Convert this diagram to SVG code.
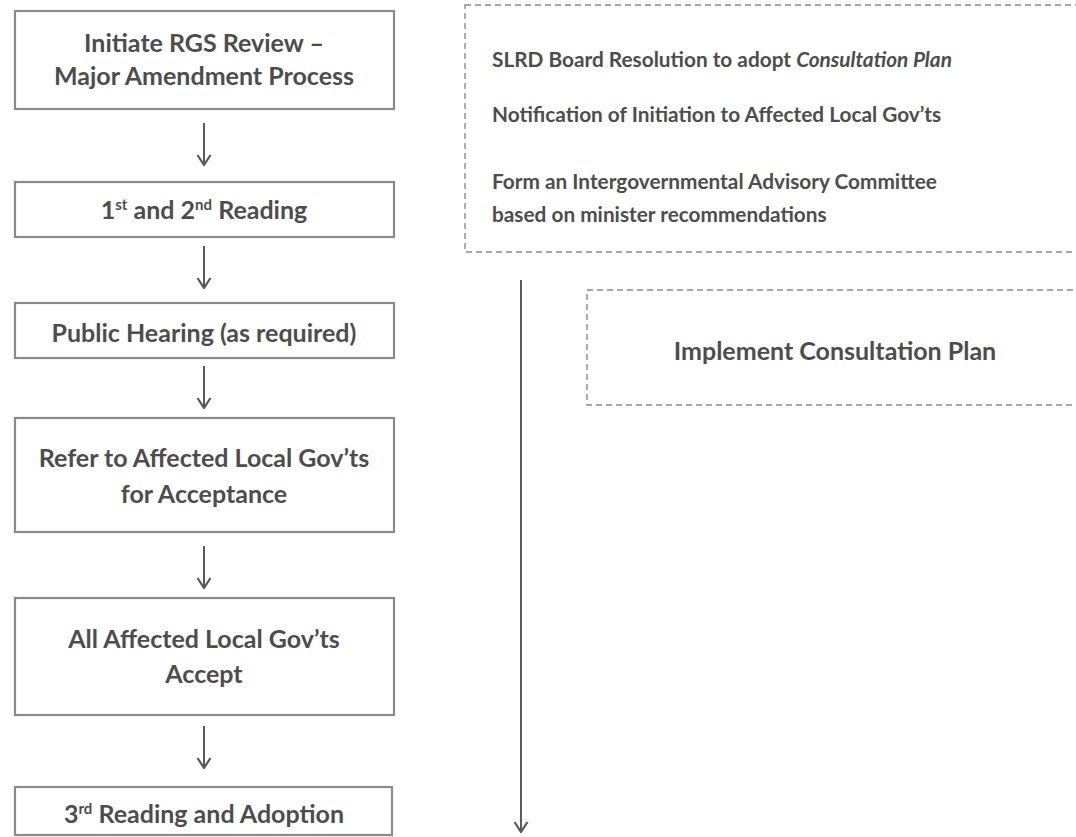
<svg xmlns="http://www.w3.org/2000/svg" width="1076" height="837" viewBox="0 0 1076 837">
<style>
.box{fill:none;stroke:#8a8a8a;stroke-width:2.2}
.dbox{fill:none;stroke:#8a8a8a;stroke-width:1.4;stroke-dasharray:6 4}
.t{font-family:Lato,"Open Sans","Liberation Sans",sans-serif;font-weight:700;font-size:25px;fill:#4d4d4d;text-anchor:middle}
.r{font-family:Lato,"Open Sans","Liberation Sans",sans-serif;font-weight:700;font-size:20.8px;fill:#4d4d4d}
.sup{font-size:15px}
.arr{fill:none;stroke:#5a5a5a;stroke-width:2}
</style>
<defs>
<marker id="ah" viewBox="0 0 12 16" refX="11" refY="8" markerWidth="12" markerHeight="16" markerUnits="userSpaceOnUse" orient="auto">
<path d="M1,1.5 L11,8 L1,14.5" fill="none" stroke="#5a5a5a" stroke-width="2.2"/>
</marker>
</defs>
<rect width="1076" height="837" fill="#ffffff"/>
<g id="n1">
<rect class="box" x="15" y="11" width="379" height="98"/>
<text class="t" x="204" y="52">Initiate RGS Review –</text>
<text class="t" x="204" y="85">Major Amendment Process</text>
</g>
<g id="n2">
<rect class="box" x="15" y="182" width="379" height="55"/>
<text class="t" x="204" y="219">1<tspan class="sup" dy="-9">st</tspan><tspan dy="9"> and 2</tspan><tspan class="sup" dy="-9">nd</tspan><tspan dy="9"> Reading</tspan></text>
</g>
<g id="n3">
<rect class="box" x="15" y="303" width="379" height="55"/>
<text class="t" x="204" y="342">Public Hearing (as required)</text>
</g>
<g id="n4">
<rect class="box" x="15" y="418" width="379" height="114"/>
<text class="t" x="204" y="467">Refer to Affected Local Gov’ts</text>
<text class="t" x="204" y="503">for Acceptance</text>
</g>
<g id="n5">
<rect class="box" x="15" y="598" width="379" height="117"/>
<text class="t" x="204" y="648">All Affected Local Gov’ts</text>
<text class="t" x="204" y="683">Accept</text>
</g>
<g id="n6">
<rect class="box" x="15" y="787" width="377" height="48"/>
<text class="t" x="204" y="823">3<tspan class="sup" dy="-9">rd</tspan><tspan dy="9"> Reading and Adoption</tspan></text>
</g>
<g id="nA">
<rect class="dbox" x="465" y="5" width="640" height="247"/>
<text class="r" x="492" y="67">SLRD Board Resolution to adopt <tspan font-style="italic">Consultation Plan</tspan></text>
<text class="r" x="492" y="122">Notification of Initiation to Affected Local Gov’ts</text>
<text class="r" x="492" y="189">Form an Intergovernmental Advisory Committee</text>
<text class="r" x="492" y="222">based on minister recommendations</text>
</g>
<g id="nB">
<rect class="dbox" x="587" y="290" width="520" height="115"/>
<text class="t" x="835" y="360">Implement Consultation Plan</text>
</g>
<g id="connectors">
<line class="arr" x1="204" y1="123" x2="204" y2="165" marker-end="url(#ah)"/>
<line class="arr" x1="204" y1="246" x2="204" y2="288" marker-end="url(#ah)"/>
<line class="arr" x1="204" y1="366" x2="204" y2="408" marker-end="url(#ah)"/>
<line class="arr" x1="204" y1="546" x2="204" y2="588" marker-end="url(#ah)"/>
<line class="arr" x1="204" y1="726" x2="204" y2="768" marker-end="url(#ah)"/>
<line class="arr" x1="521" y1="280" x2="521" y2="832" marker-end="url(#ah)"/>
</g>
</svg>
